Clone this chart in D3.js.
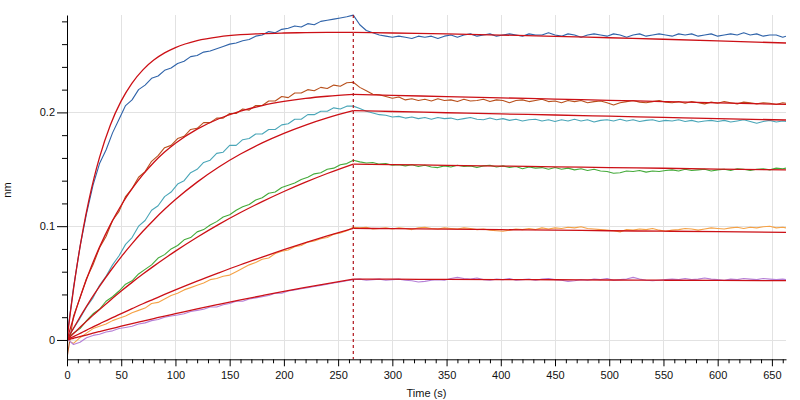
<!DOCTYPE html>
<html><head><meta charset="utf-8">
<script src="https://cdn.jsdelivr.net/npm/d3@7"></script>
<style>
body{margin:0;background:#fff;}
svg{display:block;font-family:"Liberation Sans",Arial,sans-serif;}
</style></head>
<body><svg id="c" width="800" height="400"></svg>
<script>
// ---- sample times (s) ----
const assocT = [0,6,12,18,24,30,36,42,48,54,60,66,72,78,84,90,96,102,108,114,120,126,132,138,144,150,156,162,168,174,180,186,192,198,204,210,216,222,228,234,240,246,252,258,264];
const dissocT = [270,276,282,288,294,300,306,312,318,324,330,336,342,348,354,360,366,372,378,384,390,396,402,408,414,420,426,432,438,444,450,456,462,468,474,480,486,492,498,504,510,516,522,528,534,540,546,552,558,564,570,576,582,588,594,600,606,612,618,624,630,636,642,648,654,660,663];
const fitAssocT = [0,3,6,10,15,20,25,30,40,50,60,70,80,90,100,120,140,160,180,200,220,240,264];
const fitDissocT = [264,300,350,400,450,500,550,600,663];
const switchTime = 264;

// ---- measured traces (nm) ----
const blueA = [0.003,0.046,0.082,0.111,0.136,0.155,0.167,0.182,0.194,0.206,0.211,0.220,0.224,0.230,0.232,0.237,0.239,0.243,0.245,0.249,0.250,0.253,0.254,0.256,0.258,0.260,0.261,0.263,0.264,0.267,0.268,0.271,0.270,0.273,0.274,0.276,0.275,0.278,0.277,0.280,0.281,0.282,0.283,0.284,0.2855];
const blueD = [0.277,0.272,0.270,0.268,0.267,0.266,0.267,0.266,0.265,0.267,0.266,0.267,0.265,0.267,0.268,0.266,0.268,0.269,0.267,0.268,0.269,0.267,0.268,0.269,0.268,0.267,0.269,0.268,0.268,0.270,0.268,0.267,0.269,0.268,0.266,0.268,0.269,0.268,0.267,0.269,0.268,0.266,0.268,0.269,0.267,0.268,0.269,0.268,0.267,0.269,0.268,0.269,0.267,0.268,0.269,0.267,0.268,0.269,0.268,0.270,0.268,0.269,0.267,0.268,0.268,0.266,0.267];
const brownA = [-0.016,0.021,0.037,0.054,0.066,0.081,0.091,0.105,0.113,0.126,0.133,0.143,0.148,0.157,0.162,0.169,0.171,0.177,0.179,0.185,0.186,0.191,0.191,0.195,0.195,0.199,0.199,0.203,0.202,0.206,0.206,0.210,0.210,0.214,0.213,0.217,0.217,0.220,0.219,0.222,0.221,0.224,0.223,0.226,0.2265];
const brownD = [0.222,0.219,0.216,0.2155,0.214,0.2125,0.2135,0.211,0.212,0.2105,0.2115,0.210,0.212,0.2105,0.211,0.2095,0.2115,0.210,0.2105,0.2115,0.2095,0.211,0.2105,0.2085,0.2105,0.211,0.2095,0.2105,0.2115,0.2095,0.210,0.2085,0.2105,0.2095,0.2105,0.2085,0.2095,0.210,0.2085,0.2065,0.2085,0.2095,0.2105,0.209,0.2085,0.2095,0.2105,0.209,0.2085,0.2095,0.208,0.2095,0.2085,0.2075,0.209,0.208,0.2095,0.2085,0.2075,0.209,0.2085,0.2075,0.2085,0.208,0.207,0.2085,0.208];
const tealA = [0.002,0.010,0.019,0.029,0.037,0.048,0.056,0.066,0.074,0.084,0.090,0.100,0.105,0.114,0.118,0.126,0.130,0.137,0.140,0.147,0.150,0.156,0.158,0.164,0.165,0.171,0.171,0.176,0.177,0.181,0.181,0.185,0.185,0.189,0.190,0.194,0.194,0.198,0.198,0.201,0.201,0.204,0.203,0.2055,0.2055];
const tealD = [0.2035,0.201,0.1995,0.198,0.1975,0.196,0.1965,0.195,0.196,0.1945,0.1955,0.194,0.1955,0.1945,0.195,0.1935,0.1945,0.1955,0.194,0.1935,0.195,0.1935,0.1945,0.193,0.194,0.1925,0.1935,0.194,0.1925,0.1935,0.192,0.1935,0.1925,0.194,0.1925,0.1935,0.1915,0.193,0.1935,0.1925,0.194,0.1925,0.1935,0.192,0.193,0.1935,0.192,0.193,0.1925,0.1935,0.192,0.193,0.1915,0.1925,0.193,0.192,0.193,0.1915,0.1925,0.1935,0.192,0.1905,0.192,0.193,0.1915,0.1925,0.192];
const greenA = [0.001,0.006,0.010,0.017,0.023,0.027,0.034,0.038,0.043,0.049,0.052,0.058,0.062,0.066,0.072,0.075,0.080,0.083,0.088,0.090,0.095,0.097,0.101,0.104,0.108,0.110,0.114,0.117,0.119,0.123,0.125,0.129,0.130,0.134,0.136,0.138,0.141,0.143,0.146,0.147,0.150,0.151,0.154,0.155,0.158];
const greenD = [0.1565,0.1555,0.156,0.1545,0.155,0.1535,0.154,0.153,0.154,0.1525,0.1535,0.152,0.1515,0.153,0.152,0.1535,0.1525,0.153,0.1515,0.153,0.1535,0.152,0.153,0.1515,0.1525,0.1505,0.152,0.151,0.1515,0.150,0.1515,0.150,0.151,0.1495,0.1505,0.149,0.150,0.1485,0.148,0.1465,0.147,0.1485,0.148,0.149,0.1475,0.1485,0.148,0.149,0.1495,0.1485,0.150,0.149,0.1495,0.150,0.1485,0.1495,0.150,0.149,0.1505,0.150,0.149,0.150,0.1505,0.1495,0.151,0.1505,0.151];
const orangeA = [0.000,-0.003,0.002,0.006,0.010,0.012,0.014,0.017,0.019,0.021,0.024,0.026,0.028,0.032,0.033,0.036,0.039,0.041,0.044,0.046,0.048,0.050,0.053,0.054,0.056,0.057,0.060,0.063,0.066,0.068,0.071,0.072,0.076,0.078,0.079,0.082,0.083,0.086,0.087,0.089,0.090,0.093,0.094,0.096,0.099];
const orangeD = [0.0985,0.099,0.0975,0.098,0.0985,0.0975,0.0985,0.098,0.097,0.0985,0.099,0.098,0.0975,0.0985,0.098,0.0975,0.0985,0.098,0.097,0.0975,0.0965,0.096,0.0955,0.0965,0.0975,0.097,0.098,0.097,0.0985,0.0975,0.0985,0.098,0.099,0.0985,0.0995,0.098,0.0975,0.097,0.0965,0.096,0.095,0.097,0.0965,0.0975,0.097,0.098,0.0965,0.0955,0.0965,0.097,0.098,0.0975,0.0965,0.0975,0.0985,0.098,0.0975,0.0985,0.099,0.098,0.099,0.0985,0.0995,0.100,0.0985,0.099,0.0985];
const purpleA = [0.001,-0.004,-0.002,0.002,0.004,0.005,0.007,0.008,0.010,0.011,0.012,0.014,0.015,0.017,0.018,0.020,0.021,0.022,0.023,0.025,0.026,0.027,0.029,0.029,0.031,0.032,0.034,0.034,0.036,0.037,0.038,0.039,0.041,0.041,0.043,0.044,0.045,0.046,0.047,0.048,0.049,0.050,0.051,0.052,0.053];
const purpleD = [0.0535,0.0525,0.053,0.0535,0.0525,0.053,0.0535,0.0525,0.052,0.051,0.0515,0.0525,0.053,0.0525,0.054,0.055,0.054,0.0535,0.0545,0.053,0.0525,0.0535,0.053,0.054,0.0525,0.053,0.0535,0.0525,0.0535,0.054,0.053,0.0525,0.0515,0.052,0.053,0.0525,0.0535,0.053,0.054,0.0525,0.053,0.0535,0.055,0.0535,0.0525,0.052,0.0525,0.053,0.0535,0.053,0.054,0.053,0.0535,0.0545,0.0535,0.053,0.0525,0.0535,0.053,0.054,0.0535,0.053,0.054,0.0535,0.053,0.0535,0.053];

// ---- fitted curves (nm) ----
const blueFitA = [0,0.0233,0.0446,0.0701,0.0980,0.1220,0.1427,0.1605,0.1890,0.2101,0.2258,0.2374,0.2460,0.2523,0.2570,0.2631,0.2664,0.2683,0.2693,0.2698,0.2701,0.2703,0.2704];
const blueFitD = [0.2704,0.2698,0.2690,0.2680,0.2669,0.2656,0.2643,0.2629,0.2610];
const brownFitA = [0,0.0100,0.0195,0.0315,0.0455,0.0585,0.0705,0.0816,0.1014,0.1184,0.1329,0.1453,0.1560,0.1651,0.1729,0.1853,0.1944,0.2011,0.2060,0.2096,0.2123,0.2142,0.2158];
const brownFitD = [0.2158,0.2150,0.2139,0.2128,0.2117,0.2106,0.2095,0.2084,0.2070];
const tealFitA = [0,0.0052,0.0103,0.0169,0.0249,0.0326,0.0400,0.0471,0.0606,0.0731,0.0847,0.0955,0.1055,0.1148,0.1234,0.1387,0.1520,0.1634,0.1732,0.1816,0.1889,0.1952,0.2015];
const tealFitD = [0.2015,0.2008,0.1997,0.1987,0.1977,0.1967,0.1956,0.1946,0.1933];
const greenFitA = [0,0.0028,0.0056,0.0093,0.0138,0.0182,0.0226,0.0268,0.0350,0.0430,0.0506,0.0579,0.0649,0.0716,0.0781,0.0903,0.1016,0.1120,0.1216,0.1305,0.1387,0.1463,0.1546];
const greenFitD = [0.1546,0.1541,0.1535,0.1528,0.1522,0.1515,0.1509,0.1502,0.1494];
const orangeFitA = [0,0.0015,0.0029,0.0048,0.0072,0.0096,0.0119,0.0142,0.0188,0.0232,0.0275,0.0318,0.0359,0.0400,0.0440,0.0517,0.0590,0.0661,0.0728,0.0793,0.0855,0.0914,0.0981];
const orangeFitD = [0.0981,0.0978,0.0974,0.0969,0.0965,0.0960,0.0956,0.0952,0.0946];
const purpleFitA = [0,0.0008,0.0015,0.0025,0.0037,0.0049,0.0062,0.0074,0.0097,0.0121,0.0144,0.0166,0.0188,0.0210,0.0231,0.0273,0.0313,0.0352,0.0390,0.0427,0.0462,0.0496,0.0535];
const purpleFitD = [0.0535,0.0534,0.0532,0.0530,0.0529,0.0527,0.0525,0.0523,0.0521];

// ---- ticks ----
const xMajor = [0,50,100,150,200,250,300,350,400,450,500,550,600,650];
const xMinor = [10,20,30,40,60,70,80,90,110,120,130,140,160,170,180,190,210,220,230,240,260,270,280,290,310,320,330,340,360,370,380,390,410,420,430,440,460,470,480,490,510,520,530,540,560,570,580,590,610,620,630,640,660];
const yMajor = [0,0.1,0.2];
const yMinor = [0.02,0.04,0.06,0.08,0.12,0.14,0.16,0.18,0.22,0.24,0.26,0.28];
const xLabel = "Time (s)", yLabel = "nm";

const series = [
  {data:[blueA,blueD], fit:[blueFitA,blueFitD], color:"#2f63a9"},
  {data:[brownA,brownD], fit:[brownFitA,brownFitD], color:"#b8501c"},
  {data:[tealA,tealD], fit:[tealFitA,tealFitD], color:"#4aa6b8"},
  {data:[greenA,greenD], fit:[greenFitA,greenFitD], color:"#44aa3a"},
  {data:[orangeA,orangeD], fit:[orangeFitA,orangeFitD], color:"#f5a246"},
  {data:[purpleA,purpleD], fit:[purpleFitA,purpleFitD], color:"#b57fd6"}
];

const svg = d3.select("#c");
const L = 67, R = 786, T = 15, B = 359.3;
const x = d3.scaleLinear().domain([0,663]).range([L,R]);
const y = d3.scaleLinear().domain([-0.017,0.2856]).range([B,T]);

const grid = svg.append("g").attr("stroke","#e2e2e2").attr("stroke-width",1);
grid.selectAll(".vg").data(xMajor.filter(d=>d>0)).enter().append("line")
  .attr("x1",d=>Math.round(x(d))+0.5).attr("x2",d=>Math.round(x(d))+0.5).attr("y1",T).attr("y2",B);
grid.selectAll(".hg").data(yMajor).enter().append("line")
  .attr("x1",L).attr("x2",R).attr("y1",d=>Math.round(y(d))+0.5).attr("y2",d=>Math.round(y(d))+0.5);

svg.append("clipPath").attr("id","clip").append("rect").attr("x",L).attr("y",T-2).attr("width",R-L).attr("height",B-T+2);
const plot = svg.append("g").attr("clip-path","url(#clip)");

const zip = (ts, vs) => ts.map((t,i)=>[t, vs[i]]).filter(p=>p[1]!==undefined);
const line = d3.line().x(d=>x(d[0])).y(d=>y(d[1]));
const fitLine = d3.line().x(d=>x(d[0])).y(d=>y(d[1])).curve(d3.curveMonotoneX);

series.forEach(s=>{
  const pts = zip(assocT, s.data[0]).concat(zip(dissocT, s.data[1]));
  plot.append("path").attr("d", line(pts)).attr("fill","none")
    .attr("stroke", s.color).attr("stroke-width",1.1).attr("stroke-linejoin","round");
});
series.forEach(s=>{
  [[fitAssocT,s.fit[0]],[fitDissocT,s.fit[1]]].forEach(([ts,vs])=>{
    plot.append("path").attr("d", fitLine(zip(ts,vs))).attr("fill","none")
      .attr("stroke","#cc1016").attr("stroke-width",1.3);
  });
});

// switch marker
svg.append("line").attr("x1",x(switchTime)).attr("x2",x(switchTime)).attr("y1",T).attr("y2",B)
  .attr("stroke","#b0141c").attr("stroke-width",1.2).attr("stroke-dasharray","3,3");

// axes
const fmt = d=> d===0 ? "0" : d3.format(".1f")(d);
const yAx = svg.append("g").attr("transform",`translate(${L},0)`)
  .call(d3.axisLeft(y).tickValues(yMajor).tickSize(10).tickSizeOuter(0).tickPadding(2).tickFormat(fmt));
svg.append("g").attr("transform",`translate(${L},0)`)
  .call(d3.axisLeft(y).tickValues(yMinor).tickSize(5).tickSizeOuter(0).tickFormat(""))
  .select(".domain").remove();
const xAx = svg.append("g").attr("transform",`translate(0,${B})`)
  .call(d3.axisBottom(x).tickValues(xMajor).tickSize(7).tickSizeOuter(0).tickPadding(5));
svg.append("g").attr("transform",`translate(0,${B})`)
  .call(d3.axisBottom(x).tickValues(xMinor).tickSize(4).tickSizeOuter(0).tickFormat(""))
  .select(".domain").remove();
svg.selectAll(".tick text").attr("font-size",11).attr("fill","#111")
  .attr("font-family","'Liberation Sans',Arial,sans-serif");
svg.selectAll(".domain,.tick line").attr("stroke","#000");

svg.append("text").attr("x",(L+R)/2).attr("y",397).attr("text-anchor","middle")
  .attr("font-size",11).attr("fill","#111").text(xLabel);
svg.append("text").attr("transform","translate(11,190) rotate(-90)").attr("text-anchor","middle")
  .attr("font-size",11).attr("fill","#111").text(yLabel);
</script></body></html>
